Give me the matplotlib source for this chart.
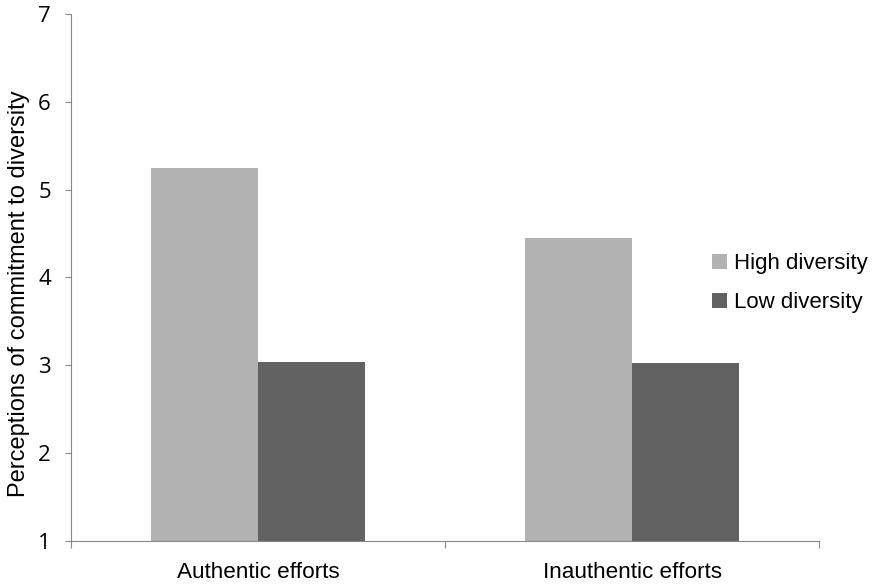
import matplotlib.pyplot as plt
import numpy as np

categories = ["Authentic efforts", "Inauthentic efforts"]
high_diversity = [5.25, 4.45]
low_diversity = [3.04, 3.03]
yticks = [1, 2, 3, 4, 5, 6, 7]

plt.rcParams['font.family'] = ['Liberation Sans', 'DejaVu Sans']

fig = plt.figure(figsize=(8.74, 5.87), dpi=100)
ax = fig.add_axes([0.0812, 0.0784, 0.856, 0.898])

x = np.arange(len(categories))
w = 0.287
ax.bar(x - w / 2, np.array(high_diversity) - 1, w, bottom=1, color="#b2b2b2", label="High diversity")
ax.bar(x + w / 2, np.array(low_diversity) - 1, w, bottom=1, color="#626262", label="Low diversity")

ax.set_xlim(-0.5, 1.5)
ax.set_ylim(1, 7)
ax.set_yticks(yticks)
ax.set_yticklabels([str(v) for v in yticks], fontsize=16, family=['Open Sans', 'DejaVu Sans'])
ax.set_ylabel("Perceptions of commitment to diversity", fontsize=17)
ax.yaxis.set_label_coords(-0.055, 0.47)

ax.set_xticks([-0.5, 0.5, 1.5])
ax.set_xticklabels([])
ax.set_xticks(x, minor=True)
ax.set_xticklabels(categories, minor=True, fontsize=16.2)
ax.tick_params(axis="x", which="minor", length=0, pad=15)
ax.tick_params(axis="x", which="major", length=5, color="#888888", direction="out")
ax.tick_params(axis="y", length=4.5, color="#888888", direction="out", pad=10)

for s in ["top", "right"]:
    ax.spines[s].set_visible(False)
for s in ["left", "bottom"]:
    ax.spines[s].set_color("#888888")

ax.legend(loc="center left", bbox_to_anchor=(0.857, 0.489), frameon=False, fontsize=16,
          borderpad=0, borderaxespad=0,
          handlelength=0.68, handleheight=0.68, handletextpad=0.3, labelspacing=0.8)

fig.savefig("out.png", dpi=100)
